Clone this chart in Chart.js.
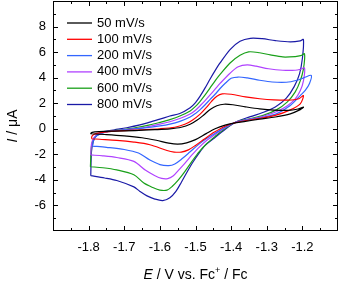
<!DOCTYPE html>
<html>
<head>
<meta charset="utf-8">
<script src="https://cdn.jsdelivr.net/npm/chart.js@4"></script>
<style>
  html, body { margin: 0; padding: 0; background: #fff; }
  #wrap { width: 339px; height: 282px; }
</style>
</head>
<body>
<div id="wrap"><canvas id="cv"></canvas></div>
<script>
// scan rates (legend labels) and line colours
const labels = ['50 mV/s', '100 mV/s', '200 mV/s', '400 mV/s', '600 mV/s', '800 mV/s'];
const colors = ['#000000', '#ff0000', '#3366ff', '#b042ff', '#19a019', '#1a1aa6'];

// potential (V vs Fc+/Fc) and current (uA)
// each loop: forward scan from -1.8 V to the turn near -1.2 V, then back
const e50 = [-1.795, -1.790, -1.770, -1.730, -1.670, -1.614, -1.572, -1.540, -1.515, -1.494, -1.476, -1.459, -1.440, -1.420, -1.395, -1.360, -1.320, -1.280, -1.240, -1.212, -1.197,
  -1.206, -1.234, -1.276, -1.320, -1.360, -1.385, -1.417, -1.445, -1.470, -1.500, -1.525, -1.550, -1.575, -1.610, -1.650, -1.700, -1.750, -1.795];
const i50 = [-0.39, -0.28, -0.22, -0.18, -0.14, -0.07, 0.00, 0.12, 0.35, 0.70, 1.10, 1.50, 1.80, 1.92, 1.88, 1.72, 1.56, 1.46, 1.44, 1.55, 1.69,
  1.50, 1.17, 0.92, 0.75, 0.58, 0.48, 0.28, 0.00, -0.38, -0.85, -1.10, -1.20, -1.12, -0.90, -0.70, -0.55, -0.45, -0.39];

const e100 = [-1.792, -1.790, -1.780, -1.755, -1.713, -1.656, -1.600, -1.558, -1.530, -1.510, -1.487, -1.470, -1.455, -1.440, -1.425, -1.400, -1.360, -1.320, -1.280, -1.240, -1.210, -1.197,
  -1.206, -1.234, -1.276, -1.327, -1.385, -1.417, -1.448, -1.475, -1.500, -1.520, -1.540, -1.560, -1.580, -1.628, -1.673, -1.721, -1.769, -1.792];
const i100 = [-0.78, -0.55, -0.38, -0.26, -0.16, -0.08, 0.00, 0.12, 0.35, 0.65, 1.15, 1.65, 2.15, 2.55, 2.73, 2.70, 2.50, 2.35, 2.26, 2.24, 2.35, 2.60,
  1.95, 1.48, 1.05, 0.78, 0.50, 0.20, -0.28, -0.80, -1.30, -1.65, -1.82, -1.82, -1.70, -1.25, -1.04, -0.90, -0.82, -0.78];

const e200 = [-1.789, -1.786, -1.776, -1.757, -1.721, -1.685, -1.642, -1.600, -1.572, -1.544, -1.515, -1.500, -1.487, -1.473, -1.459, -1.445, -1.431, -1.415, -1.400, -1.380, -1.355, -1.320, -1.285, -1.245, -1.215, -1.195, -1.175,
  -1.180, -1.192, -1.206, -1.234, -1.273, -1.320, -1.350, -1.385, -1.417, -1.445, -1.468, -1.490, -1.515, -1.538, -1.558, -1.575, -1.600, -1.628, -1.660, -1.700, -1.750, -1.789];
const i200 = [-1.35, -0.85, -0.52, -0.30, -0.15, -0.05, 0.07, 0.22, 0.36, 0.58, 0.92, 1.20, 1.50, 1.88, 2.30, 2.70, 3.15, 3.60, 3.95, 4.05, 3.98, 3.80, 3.66, 3.64, 3.80, 4.00, 4.17,
  3.55, 3.00, 2.60, 1.82, 1.17, 0.85, 0.72, 0.52, 0.12, -0.35, -0.75, -1.20, -1.80, -2.35, -2.75, -2.88, -2.80, -2.45, -1.90, -1.62, -1.45, -1.35];

const e400 = [-1.794, -1.792, -1.785, -1.770, -1.745, -1.700, -1.656, -1.628, -1.600, -1.572, -1.544, -1.515, -1.500, -1.487, -1.473, -1.459, -1.445, -1.431, -1.403, -1.380, -1.355, -1.330, -1.295, -1.255, -1.220, -1.205, -1.194,
  -1.197, -1.206, -1.220, -1.242, -1.273, -1.310, -1.346, -1.385, -1.417, -1.445, -1.468, -1.490, -1.510, -1.530, -1.548, -1.563, -1.578, -1.595, -1.615, -1.640, -1.673, -1.721, -1.760, -1.794];
const i400 = [-2.05, -1.20, -0.70, -0.38, -0.20, -0.08, 0.05, 0.20, 0.36, 0.55, 0.80, 1.15, 1.45, 1.80, 2.20, 2.65, 3.10, 3.55, 4.35, 4.85, 5.00, 4.90, 4.70, 4.58, 4.58, 4.66, 4.76,
  3.75, 2.97, 2.34, 1.80, 1.33, 0.98, 0.75, 0.55, 0.08, -0.45, -0.90, -1.45, -2.05, -2.70, -3.25, -3.70, -3.90, -3.88, -3.65, -3.25, -2.55, -2.25, -2.12, -2.05];

const e600 = [-1.795, -1.792, -1.785, -1.770, -1.745, -1.710, -1.670, -1.628, -1.600, -1.572, -1.544, -1.515, -1.500, -1.487, -1.473, -1.459, -1.445, -1.431, -1.403, -1.375, -1.351, -1.320, -1.290, -1.255, -1.220, -1.205, -1.194,
  -1.197, -1.206, -1.220, -1.242, -1.273, -1.310, -1.346, -1.385, -1.417, -1.445, -1.468, -1.490, -1.510, -1.530, -1.548, -1.565, -1.580, -1.600, -1.620, -1.645, -1.673, -1.721, -1.760, -1.795];
const i600 = [-2.97, -1.40, -0.75, -0.40, -0.20, -0.08, 0.08, 0.30, 0.50, 0.72, 1.00, 1.40, 1.75, 2.15, 2.65, 3.20, 3.75, 4.25, 5.15, 5.75, 6.02, 5.95, 5.78, 5.62, 5.65, 5.72, 5.86,
  4.69, 3.75, 2.89, 2.11, 1.48, 1.05, 0.80, 0.55, 0.02, -0.60, -1.15, -1.80, -2.55, -3.35, -4.00, -4.50, -4.80, -4.80, -4.60, -4.25, -3.60, -3.22, -3.05, -2.97];

const e800 = [-1.794, -1.792, -1.787, -1.777, -1.757, -1.727, -1.693, -1.656, -1.628, -1.600, -1.572, -1.544, -1.515, -1.500, -1.487, -1.473, -1.459, -1.445, -1.431, -1.403, -1.375, -1.346, -1.313, -1.276, -1.234, -1.206, -1.197,
  -1.200, -1.208, -1.223, -1.245, -1.276, -1.313, -1.346, -1.385, -1.417, -1.451, -1.473, -1.490, -1.507, -1.524, -1.540, -1.555, -1.572, -1.592, -1.614, -1.636, -1.656, -1.673, -1.721, -1.755, -1.794];
const i800 = [-3.67, -1.80, -1.00, -0.50, -0.22, -0.08, 0.08, 0.30, 0.52, 0.75, 1.00, 1.20, 1.65, 2.05, 2.55, 3.20, 3.90, 4.55, 5.15, 6.20, 6.85, 7.08, 7.05, 6.90, 6.80, 6.88, 6.99,
  5.50, 4.30, 3.30, 2.40, 1.70, 1.25, 0.95, 0.55, -0.05, -0.80, -1.30, -1.90, -2.60, -3.40, -4.20, -4.90, -5.40, -5.62, -5.50, -5.25, -4.90, -4.55, -4.05, -3.85, -3.67];

// axis ticks
const xMin = -1.9, xMax = -1.1, xStep = 0.1, xMinor = 0.05;
const yMin = -8, yMax = 10, yStep = 2, yMinor = 1;

const potentials = [e50, e100, e200, e400, e600, e800];
const currents = [i50, i100, i200, i400, i600, i800];

const FONT = '"Liberation Sans", Arial, sans-serif';

function toPoints(es, is) {
  return es.map((e, k) => ({ x: e, y: is[k] }));
}

const datasets = labels.map((lab, k) => ({
  label: lab,
  data: toPoints(potentials[k], currents[k]),
  borderColor: colors[k],
  backgroundColor: colors[k],
  borderWidth: 1.2,
  showLine: true,
  pointRadius: 0,
  tension: 0.3,
  fill: false
}));

// keep only the labelled ticks
function innerTicks(lo, hi) {
  return function (scale) {
    scale.ticks = scale.ticks.filter(t => t.value > lo + 1e-6 && t.value < hi - 1e-6);
  };
}

// frame, inward ticks on all four sides, legend and axis titles
const decorations = {
  id: 'decorations',
  afterDraw(chart) {
    const ctx = chart.ctx;
    const a = chart.chartArea;
    const xs = chart.scales.x, ys = chart.scales.y;
    ctx.save();
    ctx.strokeStyle = '#000';
    ctx.lineWidth = 1;
    ctx.strokeRect(a.left + 0.5, a.top + 0.5, a.right - a.left - 1, a.bottom - a.top - 1);

    // x ticks
    const nx = Math.round((xMax - xMin) / xMinor);
    for (let k = 1; k < nx; k++) {
      const v = xMin + k * xMinor;
      const len = (k % 2 === 0) ? 5 : 3;
      const px = Math.round(xs.getPixelForValue(v)) + 0.5;
      ctx.beginPath();
      ctx.moveTo(px, a.bottom); ctx.lineTo(px, a.bottom - len);
      ctx.moveTo(px, a.top); ctx.lineTo(px, a.top + len);
      ctx.stroke();
    }
    // y ticks
    const ny = Math.round((yMax - yMin) / yMinor);
    for (let k = 1; k < ny; k++) {
      const v = yMin + k * yMinor;
      const len = (k % 2 === 0) ? 5 : 3;
      const py = Math.round(ys.getPixelForValue(v)) + 0.5;
      ctx.beginPath();
      ctx.moveTo(a.left, py); ctx.lineTo(a.left + len, py);
      ctx.moveTo(a.right, py); ctx.lineTo(a.right - len, py);
      ctx.stroke();
    }

    // legend
    ctx.font = '13px ' + FONT;
    ctx.textBaseline = 'middle';
    ctx.textAlign = 'left';
    chart.data.datasets.forEach((ds, k) => {
      const y = 23 + k * 16.3;
      ctx.strokeStyle = ds.borderColor;
      ctx.lineWidth = 1.3;
      ctx.beginPath();
      ctx.moveTo(67, y); ctx.lineTo(92, y);
      ctx.stroke();
      ctx.fillStyle = '#000';
      ctx.fillText(ds.label, 97, y);
    });

    // x title: E / V vs. Fc+ / Fc
    ctx.fillStyle = '#000';
    ctx.textBaseline = 'alphabetic';
    const parts = [
      { t: 'E', f: 'italic 14px ' + FONT, dy: 0 },
      { t: ' / V vs. Fc', f: '14px ' + FONT, dy: 0 },
      { t: '+', f: '9px ' + FONT, dy: -6 },
      { t: ' / Fc', f: '14px ' + FONT, dy: 0 }
    ];
    let total = 0;
    parts.forEach(p => { ctx.font = p.f; p.w = ctx.measureText(p.t).width; total += p.w; });
    let x = (a.left + a.right) / 2 - total / 2;
    parts.forEach(p => { ctx.font = p.f; ctx.fillText(p.t, x, 279 + p.dy); x += p.w; });

    // y title: I / uA
    ctx.translate(17, 126);
    ctx.rotate(-Math.PI / 2);
    const yparts = [
      { t: 'I', f: 'italic 14px ' + FONT },
      { t: ' / \u03bcA', f: '14px ' + FONT }
    ];
    total = 0;
    yparts.forEach(p => { ctx.font = p.f; p.w = ctx.measureText(p.t).width; total += p.w; });
    x = -total / 2;
    yparts.forEach(p => { ctx.font = p.f; ctx.fillText(p.t, x, 0); x += p.w; });
    ctx.restore();
  }
};

new Chart(document.getElementById('cv'), {
  type: 'scatter',
  data: { datasets: datasets },
  options: {
    responsive: true,
    maintainAspectRatio: false,
    animation: false,
    layout: { padding: { top: 1, right: 1, left: 0, bottom: 0 } },
    plugins: {
      legend: { display: false },
      tooltip: { enabled: false }
    },
    scales: {
      x: {
        type: 'linear',
        min: xMin,
        max: xMax,
        grid: { display: false, drawTicks: false },
        border: { display: false },
        afterBuildTicks: innerTicks(xMin, xMax),
        afterFit(scale) {
          scale.height = 51;
          scale.paddingLeft = 0;
          scale.paddingRight = 0;
        },
        ticks: {
          stepSize: xStep,
          padding: 9,
          color: '#000',
          font: { family: FONT, size: 13 },
          maxRotation: 0,
          autoSkip: false,
          callback(v) {
            return (Math.round(v * 10) / 10).toFixed(1);
          }
        }
      },
      y: {
        type: 'linear',
        min: yMin,
        max: yMax,
        grid: { display: false, drawTicks: false },
        border: { display: false },
        afterBuildTicks: innerTicks(yMin, yMax),
        afterFit(scale) {
          scale.width = 53;
          scale.paddingTop = 0;
          scale.paddingBottom = 0;
        },
        ticks: {
          stepSize: yStep,
          padding: 7,
          color: '#000',
          font: { family: FONT, size: 13 },
          autoSkip: false,
          callback(v) {
            return String(v);
          }
        }
      }
    }
  },
  plugins: [decorations]
});
</script>
</body>
</html>
